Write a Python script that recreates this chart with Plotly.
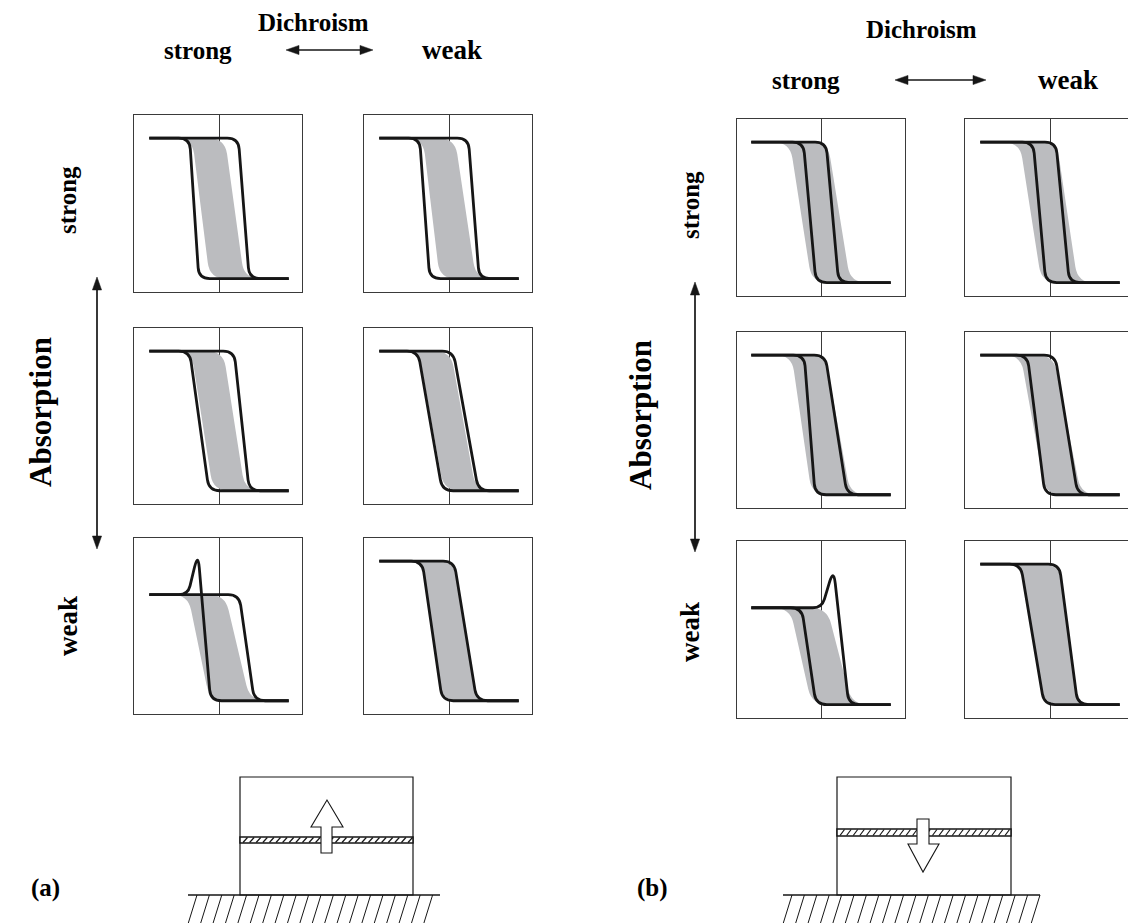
import math
import plotly.graph_objects as go

W, H = 1128, 923

# ---------------------------------------------------------------------------
# Panel data.  Order: figure (a) then (b); rows = absorption strong -> weak,
# columns = dichroism strong -> weak.  x is measured from the centre line.
# ---------------------------------------------------------------------------
panel_ids = ["a11", "a12", "a21", "a22", "a31", "a32",
             "b11", "b12", "b21", "b22", "b31", "b32"]

upper_level = [1.00, 1.00, 1.00, 1.00, 0.76, 1.00, 1.00, 1.00, 1.00, 1.00, 0.69, 1.00]
lower_level = [0.00, 0.00, 0.00, 0.00, 0.00, 0.00, 0.00, 0.00, 0.00, 0.00, 0.00, 0.00]
plateau_start = [-0.83, -0.83, -0.83, -0.83, -0.83, -0.83, -0.83, -0.83, -0.83, -0.83, -0.83, -0.83]
plateau_end = [0.83, 0.83, 0.83, 0.83, 0.83, 0.83, 0.83, 0.83, 0.83, 0.83, 0.83, 0.83]

# grey reference band: where its edges meet the upper / lower plateau
band_left_top = [-0.32, -0.31, -0.33, -0.36, -0.37, -0.32, -0.37, -0.36, -0.35, -0.35, -0.37, -0.35]
band_left_bottom = [-0.11, -0.11, -0.07, -0.06, -0.11, -0.08, -0.11, -0.10, -0.11, -0.05, -0.11, -0.07]
band_right_top = [0.07, 0.07, 0.05, 0.02, 0.07, 0.06, 0.08, 0.08, 0.05, 0.04, 0.07, 0.11]
band_right_bottom = [0.30, 0.32, 0.31, 0.32, 0.37, 0.33, 0.35, 0.33, 0.35, 0.37, 0.37, 0.33]

# first (left) black curve
curve1_top = [-0.35, -0.35, -0.35, -0.37, -0.37, -0.32, -0.21, -0.20, -0.20, -0.27, -0.23, -0.35]
curve1_bottom = [-0.24, -0.23, -0.12, -0.08, -0.10, -0.08, -0.06, -0.05, -0.07, -0.06, -0.06, -0.07]
curve1_peak_x = [None, None, None, None, -0.25, None, None, None, None, None, None, None]
curve1_peak_y = [None, None, None, None, 1.06, None, None, None, None, None, None, None]

# second (right) black curve
curve2_top = [0.23, 0.23, 0.18, 0.05, 0.24, 0.06, 0.06, 0.07, 0.05, 0.06, 0.01, 0.11]
curve2_bottom = [0.36, 0.36, 0.36, 0.35, 0.42, 0.33, 0.21, 0.23, 0.31, 0.33, 0.33, 0.33]
curve2_peak_x = [None, None, None, None, None, None, None, None, None, None, 0.15, None]
curve2_peak_y = [None, None, None, None, None, None, None, None, None, None, 0.97, None]

# text
title_text = "Dichroism"
strong_text = "strong"
weak_text = "weak"
absorption_text = "Absorption"
figure_tags = ["(a)", "(b)"]

# ---------------------------------------------------------------------------
# Layout of the panel grid (pixels)
# ---------------------------------------------------------------------------
col_px = {"a": [(134, 302, 219), (364, 532, 449)],
          "b": [(737, 905, 821), (965, 1133, 1050)]}
row_px = {"a": [(115, 292), (328, 504), (538, 714)],
          "b": [(119, 296), (332, 508), (541, 718)]}
Y_RANGE = [-0.095, 1.165]
SX = 84.0                      # px per x unit
SY = 176.5 / (Y_RANGE[1] - Y_RANGE[0])   # px per y unit

INK = "#161616"
FRAME = "#3a3a3a"
GREY = "#bbbcbf"
CURVE_R = 11      # corner softening of the black curves (px)
BAND_R = 16       # corner softening of the grey band (px)


def px(x):
    return x / W


def py(y):
    return 1 - y / H


# ---------------------------------------------------------------------------
# Path helpers: polylines with rounded (quadratic) corners in data units
# ---------------------------------------------------------------------------
def rounded(xs, ys, radii):
    P = [(x * SX, y * SY) for x, y in zip(xs, ys)]
    items = []
    for i in range(1, len(P) - 1):
        prev, cur, nxt = P[i - 1], P[i], P[i + 1]
        d1, d2 = math.dist(prev, cur), math.dist(cur, nxt)
        if radii[i] <= 0 or d1 == 0 or d2 == 0:
            items.append(("L", cur))
            continue
        r1, r2 = min(radii[i], d1 / 2), min(radii[i], d2 / 2)
        a = (cur[0] + (prev[0] - cur[0]) * r1 / d1, cur[1] + (prev[1] - cur[1]) * r1 / d1)
        b = (cur[0] + (nxt[0] - cur[0]) * r2 / d2, cur[1] + (nxt[1] - cur[1]) * r2 / d2)
        items.append(("L", a))
        items.append(("Q", cur, b))
    items.append(("L", P[-1]))
    return P[0], items


def reverse(start, items):
    ends = [start] + [it[-1] for it in items]
    out = []
    for k in range(len(items) - 1, -1, -1):
        it = items[k]
        if it[0] == "L":
            out.append(("L", ends[k]))
        else:
            out.append(("Q", it[1], ends[k]))
    return ends[-1], out


def to_svg(start, items, close=False):
    f = lambda p: f"{p[0] / SX:.4f},{p[1] / SY:.4f}"
    s = "M" + f(start)
    for it in items:
        if it[0] == "L":
            s += " L" + f(it[1])
        else:
            s += " Q" + f(it[1]) + " " + f(it[2])
    return s + (" Z" if close else "")


def step_curve(k, top_x, bottom_x, peak_x=None, peak_y=None, r=CURVE_R):
    T, B = upper_level[k], lower_level[k]
    x0, x1 = plateau_start[k], plateau_end[k]
    if peak_x is None:
        return rounded([x0, top_x, bottom_x, x1], [T, T, B, B], [0, r, r, 0])
    return rounded([x0, top_x, peak_x, bottom_x, x1], [T, T, peak_y, B, B], [0, 9, 15, r, 0])


# ---------------------------------------------------------------------------
fig = go.Figure()
shapes = []
layout_axes = {}

for k, pid in enumerate(panel_ids):
    fig_key, row, col = pid[0], int(pid[1]) - 1, int(pid[2]) - 1
    left, right, centre = col_px[fig_key][col]
    top, bottom = row_px[fig_key][row]
    right_vis = min(right, W)
    xr = [-(centre - left) / SX, (right_vis - centre) / SX]
    n = "" if k == 0 else str(k + 1)
    layout_axes["xaxis" + n] = dict(
        domain=[px(left), px(right_vis)], range=xr, anchor="y" + n,
        showline=True, mirror=True, linecolor=FRAME, linewidth=1,
        zeroline=True, zerolinecolor=FRAME, zerolinewidth=1,
        showgrid=False, showticklabels=False, ticks="", fixedrange=True)
    layout_axes["yaxis" + n] = dict(
        domain=[py(bottom), py(top)], range=Y_RANGE, anchor="x" + n,
        showline=True, mirror=(right <= W), linecolor=FRAME, linewidth=1,
        zeroline=False, showgrid=False, showticklabels=False, ticks="", fixedrange=True)
    fig.add_trace(go.Scatter(x=[], y=[], xaxis="x" + n, yaxis="y" + n,
                             showlegend=False, hoverinfo="skip"))

    # grey reference band, bounded by two softened step edges
    rs, ri = step_curve(k, band_right_top[k], band_right_bottom[k], r=BAND_R)
    ls, li = step_curve(k, band_left_top[k], band_left_bottom[k], r=BAND_R)
    lrs, lri = reverse(ls, li)
    band_path = to_svg(rs, ri + [("L", lrs)] + lri, close=True)
    shapes.append(dict(type="path", path=band_path, xref="x" + n, yref="y" + n,
                       fillcolor=GREY, line=dict(width=0), layer="above"))

    # the two measured curves
    for tx, bx, qx, qy in ((curve1_top[k], curve1_bottom[k], curve1_peak_x[k], curve1_peak_y[k]),
                           (curve2_top[k], curve2_bottom[k], curve2_peak_x[k], curve2_peak_y[k])):
        s, it = step_curve(k, tx, bx, qx, qy)
        shapes.append(dict(type="path", path=to_svg(s, it), xref="x" + n, yref="y" + n,
                           fillcolor="rgba(0,0,0,0)", line=dict(color=INK, width=2.8),
                           layer="above"))


# ---------------------------------------------------------------------------
# Decorations in page coordinates
# ---------------------------------------------------------------------------
def pline(x0, y0, x1, y1, w=1.0, color=INK):
    shapes.append(dict(type="line", xref="paper", yref="paper",
                       x0=px(x0), y0=py(y0), x1=px(x1), y1=py(y1),
                       line=dict(color=color, width=w)))


def ppoly(pts, fill, w=1.0, color=INK):
    path = "M" + " L".join(f"{px(x):.5f},{py(y):.5f}" for x, y in pts) + " Z"
    shapes.append(dict(type="path", xref="paper", yref="paper", path=path,
                       fillcolor=fill, line=dict(color=color, width=w)))


def double_arrow(x0, y0, x1, y1, head=13, half=4.6):
    L = math.hypot(x1 - x0, y1 - y0)
    ux, uy = (x1 - x0) / L, (y1 - y0) / L
    nx, ny = -uy, ux
    pline(x0 + ux * head * 0.8, y0 + uy * head * 0.8,
          x1 - ux * head * 0.8, y1 - uy * head * 0.8, w=1.7)
    for (tx, ty, sgn) in ((x1, y1, 1), (x0, y0, -1)):
        bx, by = tx - sgn * ux * head, ty - sgn * uy * head
        ppoly([(tx, ty), (bx + nx * half, by + ny * half), (bx - nx * half, by - ny * half)],
              INK, w=0.5)


def sample_cell(box, layer, arrow_pts, ground):
    bx0, bx1, by0, by1 = box
    shapes.append(dict(type="rect", xref="paper", yref="paper",
                       x0=px(bx0), x1=px(bx1), y0=py(by1), y1=py(by0),
                       line=dict(color=INK, width=1.2), fillcolor="white"))
    ly0, ly1 = layer
    shapes.append(dict(type="rect", xref="paper", yref="paper",
                       x0=px(bx0), x1=px(bx1), y0=py(ly1), y1=py(ly0),
                       line=dict(color=INK, width=1.5), fillcolor="white"))
    x = bx0 + 3
    while x < bx1 - 4:
        pline(x, ly1 - 0.5, x + 4.5, ly0 + 0.5, w=1.2)
        x += 6.6
    ppoly(arrow_pts, "white", w=1.1)
    gx0, gx1, gy = ground
    pline(gx0, gy, gx1, gy, w=1.3)
    x = gx0 + 9
    while x <= gx1 + 1:
        pline(x, gy, x - 9, gy + 29, w=1.0)
        x += 12.4


# figure (a): up-going front
sample_cell((240, 413, 777, 895), (837, 843),
            [(321, 853), (321, 827), (311, 827), (327, 800), (343, 827), (332, 827), (332, 853)],
            (188, 440, 895))
# figure (b): down-going front
sample_cell((837, 1011, 777, 895), (829, 836),
            [(917, 819), (929, 819), (929, 844), (939, 844), (923, 872), (908, 844), (917, 844)],
            (783, 1040, 895))

# axis arrows
double_arrow(286, 50, 373, 50)
double_arrow(895, 80, 986, 80)
double_arrow(97, 277, 97, 549)
double_arrow(695, 282, 695, 552)

font = dict(family="Liberation Serif", size=25, color="black", weight="bold")
annotations = []


def label(x, y, text, angle=0, size=25):
    f = dict(font)
    f["size"] = size
    annotations.append(dict(x=px(x), y=py(y), xref="paper", yref="paper", text=text,
                            showarrow=False, textangle=angle, font=f,
                            xanchor="center", yanchor="middle"))


label(313, 22, title_text)
label(198, 50, strong_text)
label(452, 50, weak_text, size=27)
label(921, 30, title_text)
label(806, 80, strong_text)
label(1068, 80, weak_text, size=27)

label(68, 200, strong_text, -90)
label(40, 412, absorption_text, -90, size=31)
label(68, 626, weak_text, -90, size=27)
label(690, 205, strong_text, -90)
label(641, 415, absorption_text, -90, size=31)
label(690, 632, weak_text, -90, size=27)

label(45, 888, figure_tags[0])
label(652, 888, figure_tags[1])

fig.update_layout(
    width=W, height=H, margin=dict(l=0, r=0, t=0, b=0),
    paper_bgcolor="white", plot_bgcolor="rgba(0,0,0,0)",
    showlegend=False, shapes=shapes, annotations=annotations,
    **layout_axes)

fig.write_html("out.html")
